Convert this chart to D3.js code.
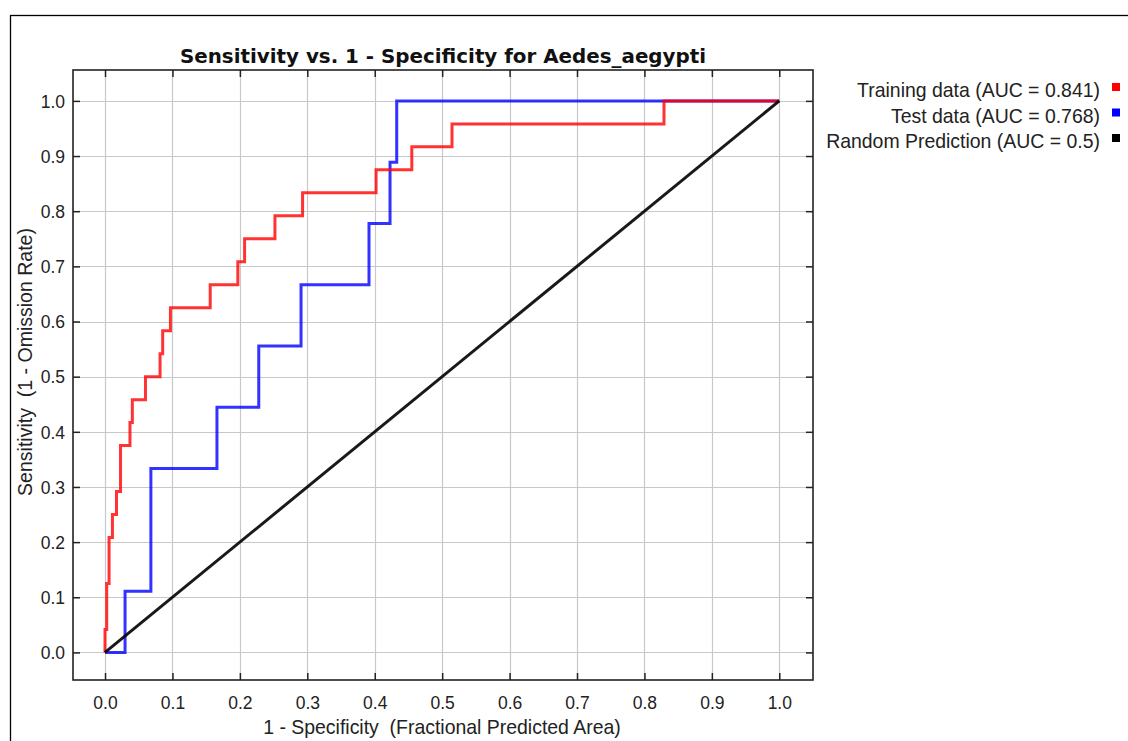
<!DOCTYPE html>
<html><head><meta charset="utf-8">
<script src="https://cdn.jsdelivr.net/npm/d3@7"></script>
<style>body{margin:0;background:#fff}svg{display:block}text{white-space:pre}</style>
</head><body>
<svg id="c" width="1128" height="741"></svg>
<script>
const title = "Sensitivity vs. 1 - Specificity for Aedes_aegypti";
const xLabel = "1 - Specificity  (Fractional Predicted Area)";
const yLabel = "Sensitivity  (1 - Omission Rate)";
const ticks = [0,0.1,0.2,0.3,0.4,0.5,0.6,0.7,0.8,0.9,1.0];
const seriesNames = ["Training data (AUC = 0.841)","Test data (AUC = 0.768)","Random Prediction (AUC = 0.5)"];
const seriesColors = ["#ff0000","#0000ff","#000000"];

const trainFpr = [0,0,0.0025,0.0025,0.006,0.006,0.011,0.011,0.017,0.017,0.023,0.023,0.037,0.037,0.0405,0.0405,0.060,0.060,0.0816,0.0816,0.0855,0.0855,0.097,0.097,0.156,0.156,0.197,0.197,0.207,0.207,0.252,0.252,0.293,0.293,0.402,0.402,0.455,0.455,0.5146,0.5146,0.829,0.829,1];
const trainTpr = [0,0.0417,0.0417,0.125,0.125,0.2083,0.2083,0.25,0.25,0.2917,0.2917,0.375,0.375,0.4167,0.4167,0.4583,0.4583,0.5,0.5,0.5417,0.5417,0.5833,0.5833,0.625,0.625,0.6667,0.6667,0.7083,0.7083,0.75,0.75,0.7917,0.7917,0.8333,0.8333,0.875,0.875,0.9167,0.9167,0.9583,0.9583,1,1];
const testFpr = [0,0.0297,0.0297,0.068,0.068,0.166,0.166,0.228,0.228,0.2907,0.2907,0.3915,0.3915,0.4227,0.4227,0.4326,0.4326,1];
const testTpr = [0,0,0.1111,0.1111,0.3333,0.3333,0.4444,0.4444,0.5556,0.5556,0.6667,0.6667,0.7778,0.7778,0.8889,0.8889,1,1];
const randFpr = [0,1];
const randTpr = [0,1];

const svg = d3.select("#c");
const L=73,R=813,T=70,B=680;
const x = d3.scaleLinear().domain([-0.0475,1.05]).range([L,R]);
const y = d3.scaleLinear().domain([-0.05,1.056]).range([B,T]);
const SANS = "'Liberation Sans', Arial, sans-serif";

function fit(sel, target){
  const s0 = +sel.attr("font-size");
  const w = sel.node().getComputedTextLength();
  if (w>0) sel.attr("font-size", (s0*target/w).toFixed(2));
  return sel;
}

// outer border
svg.append("rect").attr("x",10.5).attr("y",15.5).attr("width",1300).attr("height",900)
  .attr("fill","none").attr("stroke","#000").attr("stroke-width",1.3);

// grid
const g = svg.append("g");
g.selectAll(".gx").data(ticks).join("line")
  .attr("x1",d=>Math.round(x(d))+0.5).attr("x2",d=>Math.round(x(d))+0.5).attr("y1",T).attr("y2",B)
  .attr("stroke","#c8c8c8").attr("stroke-width",1.2);
g.selectAll(".gy").data(ticks).join("line")
  .attr("y1",d=>Math.round(y(d))+0.5).attr("y2",d=>Math.round(y(d))+0.5).attr("x1",L).attr("x2",R)
  .attr("stroke","#c8c8c8").attr("stroke-width",1.2);

// axes with inward ticks
const fmt = d3.format(".1f");
const axB = svg.append("g").attr("transform",`translate(0,${B})`)
  .call(d3.axisBottom(x).tickValues(ticks).tickSize(-7).tickFormat(fmt));
const axT = svg.append("g").attr("transform",`translate(0,${T})`)
  .call(d3.axisTop(x).tickValues(ticks).tickSize(-7).tickFormat(""));
const axL = svg.append("g").attr("transform",`translate(${L},0)`)
  .call(d3.axisLeft(y).tickValues(ticks).tickSize(-7).tickPadding(8).tickFormat(fmt));
const axR = svg.append("g").attr("transform",`translate(${R},0)`)
  .call(d3.axisRight(y).tickValues(ticks).tickSize(-7).tickFormat(""));
[axB,axT,axL,axR].forEach(a=>{
  a.select(".domain").remove();
  a.selectAll(".tick line").attr("stroke","#222").attr("stroke-width",1.5);
  a.selectAll("text").attr("font-family",SANS).attr("font-size",17.5).attr("fill","#222");
});
axB.selectAll("text").attr("dy",null).attr("y",29);
axL.selectAll("text").attr("dy","0.36em");

// series lines
const line = d3.line().x(d=>x(d[0])).y(d=>y(d[1]));
const series = [
  {fpr:testFpr,tpr:testTpr,c:seriesColors[1]},
  {fpr:trainFpr,tpr:trainTpr,c:seriesColors[0]},
  {fpr:randFpr,tpr:randTpr,c:seriesColors[2]}
];
series.forEach(s=>{
  svg.append("path").datum(d3.zip(s.fpr,s.tpr)).attr("d",line)
    .attr("fill","none").attr("stroke",s.c).attr("stroke-width",3)
    .attr("stroke-opacity",s.c==="#000000"?0.9:0.8).attr("stroke-linejoin","miter");
});

// frame
svg.append("rect").attr("x",L).attr("y",T).attr("width",R-L).attr("height",B-T)
  .attr("fill","none").attr("stroke","#222").attr("stroke-width",1.6);

// title
fit(svg.append("text").attr("x",443).attr("y",62.5).attr("text-anchor","middle")
  .attr("font-family","'DejaVu Sans', sans-serif").attr("font-weight","bold").attr("font-size",20)
  .attr("fill","#111").text(title), 526);

// axis labels
fit(svg.append("text").attr("x",442).attr("y",733.5).attr("text-anchor","middle")
  .attr("font-family",SANS).attr("font-size",19).attr("fill","#222").text(xLabel), 358);
fit(svg.append("text").attr("transform","translate(32,362) rotate(-90)").attr("text-anchor","middle")
  .attr("font-family",SANS).attr("font-size",19).attr("fill","#222").text(yLabel), 268);

// legend
const leg = svg.append("g");
const legBase = [97,122.5,148];
seriesNames.forEach((n,i)=>{
  const t = leg.append("text").attr("x",1100).attr("y",legBase[i]).attr("text-anchor","end")
    .attr("font-family",SANS).attr("font-size",19).attr("fill","#222").text(n);
  if (i===0) fit(t, 243);
  leg.append("rect").attr("x",1112).attr("y",legBase[i]-14).attr("width",8).attr("height",8).attr("fill",seriesColors[i]);
});
const fs0 = leg.select("text").attr("font-size");
leg.selectAll("text").attr("font-size",fs0);
</script>
</body></html>
